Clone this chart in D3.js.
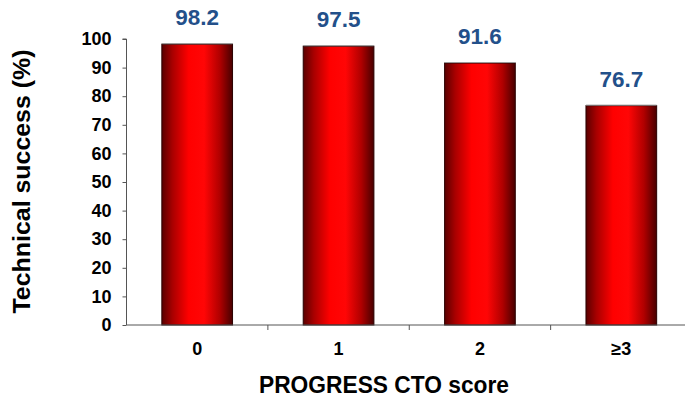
<!DOCTYPE html>
<html>
<head>
<meta charset="utf-8">
<script src="https://cdn.jsdelivr.net/npm/d3@7/dist/d3.min.js"></script>
<style>
  html, body { margin: 0; padding: 0; background: #fff; }
  svg { display: block; font-family: "Liberation Sans", Arial, sans-serif; }
</style>
</head>
<body>
<svg id="chart" width="685" height="399"></svg>
<script>
// PROGRESS CTO score vs. technical success
const categories = ["0", "1", "2", "≥3"];
const successRates = [98.2, 97.5, 91.6, 76.7];
const yTicks = [0, 10, 20, 30, 40, 50, 60, 70, 80, 90, 100];

const svg = d3.select("#chart");
const plot = { left: 126.5, right: 692, top: 39, bottom: 325 };

const x = d3.scaleBand()
  .domain(categories)
  .range([plot.left, plot.right])
  .paddingInner(0.5)
  .paddingOuter(0.25);

const y = d3.scaleLinear()
  .domain([0, 100])
  .range([plot.bottom, plot.top]);

// Cylinder-like horizontal shading for bars
const defs = svg.append("defs");
const grad = defs.append("linearGradient")
  .attr("id", "barShade")
  .attr("x1", "0%").attr("x2", "100%").attr("y1", "0%").attr("y2", "0%");
[
  [0, "#5a0000"], [0.15, "#a80000"], [0.38, "#ff0000"],
  [0.6, "#ff0606"], [0.82, "#b00000"], [1, "#480000"]
].forEach(([o, c]) => grad.append("stop").attr("offset", o).attr("stop-color", c));

// Bars
const bars = svg.append("g");
bars.selectAll("rect")
  .data(successRates)
  .join("rect")
  .attr("x", (d, i) => x(categories[i]))
  .attr("y", d => y(d))
  .attr("width", x.bandwidth())
  .attr("height", d => y(0) - y(d))
  .attr("fill", "url(#barShade)")
  .attr("stroke", "#2a0000")
  .attr("stroke-width", 1);

// Light rim on top edge of each bar
bars.selectAll("line.rim")
  .data(successRates)
  .join("line")
  .attr("class", "rim")
  .attr("x1", (d, i) => x(categories[i]))
  .attr("x2", (d, i) => x(categories[i]) + x.bandwidth())
  .attr("y1", d => y(d) - 0.5)
  .attr("y2", d => y(d) - 0.5)
  .attr("stroke", "#9a9a9a")
  .attr("stroke-width", 1);

// Value labels
svg.append("g").selectAll("text")
  .data(successRates)
  .join("text")
  .attr("x", (d, i) => x(categories[i]) + x.bandwidth() / 2)
  .attr("y", d => y(d) - 19)
  .attr("text-anchor", "middle")
  .attr("font-size", 22.5)
  .attr("font-weight", "bold")
  .attr("fill", "#23508a")
  .text(d => d.toFixed(1));

// Y axis
const yAxis = svg.append("g")
  .attr("transform", `translate(${plot.left},0)`)
  .call(d3.axisLeft(y).tickValues(yTicks).tickSize(4).tickPadding(11));
yAxis.select(".domain").attr("stroke", "#555").attr("d", `M-4,${y(100)}H0V${y(0)}`);
yAxis.selectAll(".tick line").attr("stroke", "#555");
yAxis.selectAll(".tick text")
  .attr("font-size", 18)
  .attr("font-weight", "bold")
  .attr("fill", "#000")
  .attr("font-family", "Liberation Sans, Arial, sans-serif");

// X axis: ticks sit between categories
const xAxisG = svg.append("g");
xAxisG.append("line")
  .attr("x1", plot.left).attr("x2", plot.right)
  .attr("y1", y(0)).attr("y2", y(0))
  .attr("stroke", "#555");
const step = x.step();
const boundaries = categories.map((c, i) => x(c) - x.paddingInner() * step / 2).concat([plot.right]);
xAxisG.selectAll("line.sep")
  .data(boundaries.slice(1, 4))
  .join("line")
  .attr("class", "sep")
  .attr("x1", d => d).attr("x2", d => d)
  .attr("y1", y(0)).attr("y2", y(0) + 5)
  .attr("stroke", "#555");
xAxisG.selectAll("text")
  .data(categories)
  .join("text")
  .attr("x", d => x(d) + x.bandwidth() / 2)
  .attr("y", y(0) + 30)
  .attr("text-anchor", "middle")
  .attr("font-size", 18)
  .attr("font-weight", "bold")
  .attr("fill", "#000")
  .text(d => d);

// Axis titles
svg.append("text")
  .attr("x", 384)
  .attr("y", 393)
  .attr("text-anchor", "middle")
  .attr("font-size", 23)
  .attr("font-weight", "bold")
  .attr("textLength", 250)
  .attr("lengthAdjust", "spacingAndGlyphs")
  .text("PROGRESS CTO score");

svg.append("text")
  .attr("transform", "translate(30,181.5) rotate(-90)")
  .attr("text-anchor", "middle")
  .attr("font-size", 23.5)
  .attr("font-weight", "bold")
  .attr("textLength", 264)
  .attr("lengthAdjust", "spacingAndGlyphs")
  .text("Technical success (%)");
</script>
</body>
</html>
